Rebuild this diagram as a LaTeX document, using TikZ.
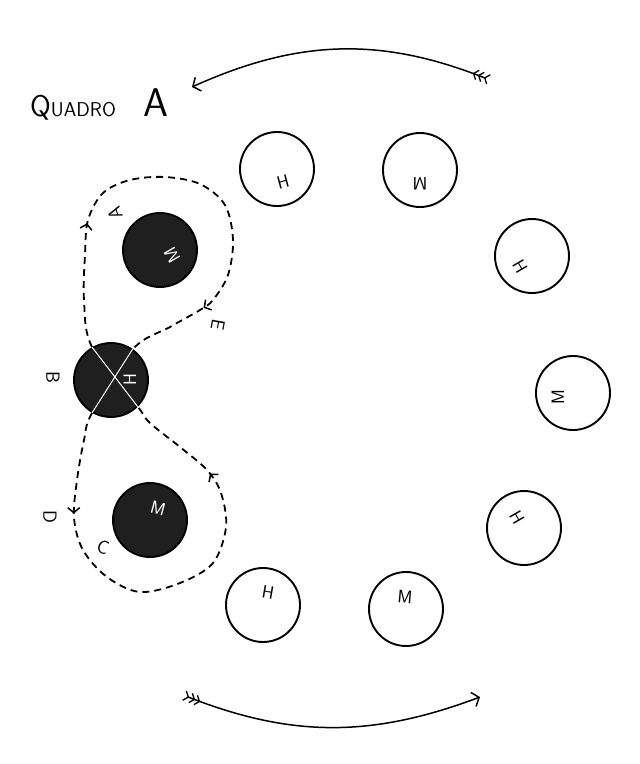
\documentclass[tikz,border=0pt]{standalone}
\usepackage{amsmath, amssymb}
\usetikzlibrary{arrows.meta, decorations.markings}

\tikzset{
	seat/.style={shape=circle, draw, line width=1.9pt, minimum size=74pt, inner sep=0pt},
	taken/.style={seat, fill=black!88},
	who/.style={font=\sffamily\fontsize{18}{18}\selectfont, inner sep=0pt},
	whotaken/.style={who, text=white},
	tag/.style={font=\sffamily\fontsize{19}{19}\selectfont, inner sep=0pt},
	chev/.tip={Straight Barb[length=5pt, width=12pt, line width=1.5pt]},
	feather/.tip={Straight Barb[reversed, length=4pt, width=10pt, line width=1.3pt]},
	sweep/.style={line width=1.5pt, {feather[sep=1pt] feather[sep=1pt] feather}-{Straight Barb[length=6pt, width=15pt, line width=1.5pt]}},
	route/.style={line width=1.8pt, dash pattern=on 7pt off 5pt}
}

\begin{document}
\begin{tikzpicture}[x=1pt, y=1pt]
	\path[fill=white] (0, 0) rectangle (640, -764);
	\useasboundingbox (0, 0) rectangle (640, -764);
	% Title:
	\node[anchor=base west, inner sep=0pt] (title) at (30, -116) {\sffamily{\fontsize{30}{30}\selectfont Q}{\fontsize{20}{20}\selectfont UADRO}\hspace{28pt}{\fontsize{40}{40}\selectfont A}};
	% Route of the pair:
	\draw[route, postaction={decorate}, decoration={markings,
		mark=at position 0.091 with {\arrow{chev}},
		mark=at position 0.345 with {\arrow{chev}},
		mark=at position 0.61 with {\arrow{chev}},
		mark=at position 0.86 with {\arrow{chev}}}]
		plot[smooth cycle, tension=0.55] coordinates {(133, -349) (92, -413) (84, -440) (77, -480) (74, -518) (83, -550) (107, -577) (140, -592) (180, -583) (213, -563) (226, -527) (221, -493) (207, -470) (180, -447) (150, -423) (138, -407) (92, -347) (84, -300) (85, -255) (88, -220) (103, -193) (130, -180) (165, -177) (200, -184) (225, -205) (233, -240) (228, -275) (213, -300) (200, -310) (170, -327)};
	% Seats:
	\node[seat] (h1) at (277, -169) {};
	\node[seat] (m1) at (420, -170) {};
	\node[seat] (h2) at (532, -256) {};
	\node[seat] (m2) at (573, -393) {};
	\node[seat] (h3) at (524, -528) {};
	\node[seat] (h4) at (263, -605) {};
	\node[seat] (m3) at (406, -609) {};
	\node[taken] (m4) at (160, -250) {};
	\node[taken] (h5) at (111, -380) {};
	\node[taken] (m5) at (150, -520) {};
	\draw[white, line width=1pt] (h5.120) -- (h5.-45);
	\draw[white, line width=1pt] (h5.55) -- (h5.-120);
	% Letters in the seats:
	\node[who, rotate=15] (h1l) at (283, -182) {H};
	\node[who, rotate=180] (m1l) at (420, -184) {M};
	\node[who, rotate=-60] (h2l) at (520, -267) {H};
	\node[who, rotate=90] (m2l) at (558, -397) {M};
	\node[who, rotate=-60] (h3l) at (517, -518) {H};
	\node[who, rotate=-10] (h4l) at (268, -592) {H};
	\node[who, rotate=-5] (m3l) at (405, -597) {M};
	\node[whotaken, rotate=120] (m4l) at (172, -255) {M};
	\node[whotaken, rotate=90] (h5l) at (130, -380) {H};
	\node[whotaken, rotate=-15] (m5l) at (158, -508) {M};
	% Labels on the route:
	\node[tag, rotate=110] (la) at (115, -213) {A};
	\node[tag, rotate=-90] (lb) at (53, -377) {B};
	\node[tag, rotate=-20] (lc) at (103, -547) {C};
	\node[tag, rotate=-90] (ld) at (50, -517) {D};
	\node[tag, rotate=-100] (le) at (218, -325) {E};
	% Turn arrows:
	\coordinate (t1) at (490, -80);
	\coordinate (e1) at (192, -87);
	\coordinate (t2) at (183, -695);
	\coordinate (e2) at (480, -697);
	\draw[sweep] (t1) to[bend right=23] (e1);
	\draw[sweep] (t2) to[bend right=21] (e2);
\end{tikzpicture}
\end{document}
